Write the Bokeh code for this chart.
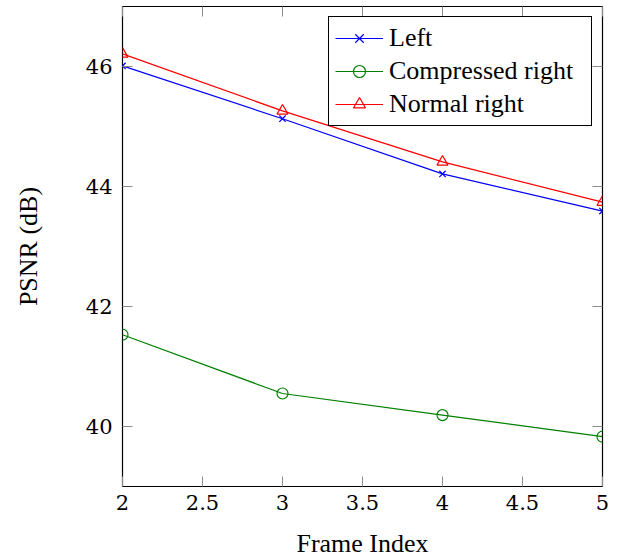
from bokeh.plotting import figure
from bokeh.models import Range1d, FixedTicker, LinearAxis, Legend, LegendItem, CustomJSTickFormatter
from bokeh.embed import file_html
from bokeh.resources import INLINE

# PSNR per frame for the three views
frame_index = [2, 3, 4, 5]
psnr_left = [46.01, 45.13, 44.21, 43.59]
psnr_compressed_right = [41.53, 40.55, 40.19, 39.83]
psnr_normal_right = [46.21, 45.26, 44.41, 43.74]

x_ticks = [2, 2.5, 3, 3.5, 4, 4.5, 5]
x_tick_labels = ["2", "2.5", "3", "3.5", "4", "4.5", "5"]
y_ticks = [40, 42, 44, 46]
y_tick_labels = ["40", "42", "44", "46"]

SERIF = "Liberation Serif"
TICK_FONT = "DejaVu Serif"
TICK_GRAY = "#8c8c8c"

p = figure(width=622, height=560, output_backend="svg", toolbar_location=None,
           x_range=Range1d(2, 5), y_range=Range1d(39, 47))
p.min_border_left = 122
p.min_border_right = 20
p.min_border_top = 6
p.min_border_bottom = 74
p.outline_line_color = "black"
p.outline_line_width = 1.2
p.grid.visible = False
p.background_fill_color = "white"
p.border_fill_color = "white"

def label_formatter(values, labels):
    return CustomJSTickFormatter(
        args=dict(tick_values=values, tick_labels=labels),
        code="const i = tick_values.indexOf(tick); return i >= 0 ? tick_labels[i] : '';")

def style_axis(ax, values, labels, show_labels=True):
    ax.ticker = FixedTicker(ticks=values)
    ax.major_tick_in = 10
    ax.major_tick_out = 0
    ax.minor_tick_in = 0
    ax.minor_tick_out = 0
    ax.major_tick_line_color = TICK_GRAY
    ax.major_tick_line_width = 1
    ax.axis_line_color = None
    ax.major_label_text_font = TICK_FONT
    ax.major_label_text_font_style = "normal"
    ax.major_label_text_font_size = "21px"
    ax.major_label_text_color = "black"
    if show_labels:
        ax.formatter = label_formatter(values, labels)
    else:
        ax.formatter = CustomJSTickFormatter(code="return '';")
        ax.major_label_standoff = 0

xa = p.below[0]
style_axis(xa, x_ticks, x_tick_labels)
xa.major_label_standoff = 8
xa.axis_label = "Frame Index"
xa.axis_label_text_font = SERIF
xa.axis_label_text_font_size = "26px"
xa.axis_label_text_font_style = "normal"
xa.axis_label_text_color = "black"
xa.axis_label_standoff = 16

ya = p.left[0]
style_axis(ya, y_ticks, y_tick_labels)
ya.major_label_standoff = 10
ya.axis_label = "PSNR (dB)"
ya.axis_label_text_font = SERIF
ya.axis_label_text_font_size = "26px"
ya.axis_label_text_font_style = "normal"
ya.axis_label_text_color = "black"
ya.axis_label_standoff = 40

# mirrored ticks on the top and right edges
top_axis = LinearAxis()
style_axis(top_axis, x_ticks, x_tick_labels, show_labels=False)
p.add_layout(top_axis, "above")
right_axis = LinearAxis()
style_axis(right_axis, y_ticks, y_tick_labels, show_labels=False)
p.add_layout(right_axis, "right")

l1 = p.line(frame_index, psnr_left, color="#0000ff", line_width=1.2)
m1 = p.scatter(frame_index, psnr_left, marker="x", size=9, line_color="#0000ff", line_width=1.2)
l2 = p.line(frame_index, psnr_compressed_right, color="#008000", line_width=1.2)
m2 = p.scatter(frame_index, psnr_compressed_right, marker="circle", size=11,
               line_color="#008000", fill_color=None, line_width=1.2)
l3 = p.line(frame_index, psnr_normal_right, color="#ff0000", line_width=1.2)
m3 = p.scatter(frame_index, psnr_normal_right, marker="triangle", size=11,
               line_color="#ff0000", fill_color=None, line_width=1.2)

legend = Legend(items=[
    LegendItem(label="Left", renderers=[l1, m1]),
    LegendItem(label="Compressed right", renderers=[l2, m2]),
    LegendItem(label="Normal right", renderers=[l3, m3]),
], location="top_right")
legend.margin = 10
legend.padding = 6
legend.spacing = 3
legend.glyph_width = 48
legend.glyph_height = 30
legend.label_height = 30
legend.label_standoff = 6
legend.label_width = 196
legend.label_text_font = SERIF
legend.label_text_font_size = "26px"
legend.label_text_color = "black"
legend.border_line_color = "black"
legend.border_line_width = 1
legend.border_line_alpha = 1
legend.background_fill_color = "white"
legend.background_fill_alpha = 1
p.add_layout(legend, "center")

open("out.html", "w").write(file_html(p, INLINE))
